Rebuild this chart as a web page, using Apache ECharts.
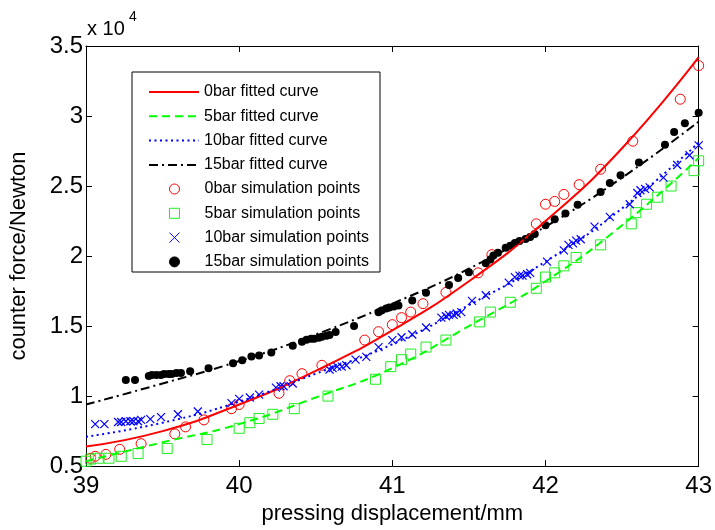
<!DOCTYPE html>
<html>
<head>
<meta charset="utf-8">
<script src="https://cdn.jsdelivr.net/npm/echarts@6/dist/echarts.min.js"></script>
<style>
html, body { margin: 0; padding: 0; background: #fff; }
#chart { width: 715px; height: 530px; }
</style>
</head>
<body>
<div id="chart"></div>
<script>
// fitted curves, force in units of 1e4 N
const curveX = [39, 39.5, 40, 40.5, 41, 41.5, 42, 42.5, 43];
const fit0 = [0.64, 0.75, 0.94, 1.18, 1.47, 1.82, 2.25, 2.77, 3.42];
const fit5 = [0.535, 0.67, 0.80, 0.99, 1.20, 1.50, 1.82, 2.22, 2.70];
const fit10 = [0.71, 0.81, 0.96, 1.16, 1.37, 1.65, 1.96, 2.34, 2.81];
const fit15 = [0.94, 1.09, 1.25, 1.44, 1.66, 1.91, 2.21, 2.56, 2.96];

// simulation points
const sim0X = [39.03, 39.06, 39.13, 39.22, 39.36, 39.58, 39.65, 39.77, 39.95, 40.00, 40.26, 40.33, 40.41, 40.54, 40.82, 40.91, 41.00, 41.06, 41.12, 41.20, 41.35, 41.56, 41.65, 41.94, 42.00, 42.06, 42.12, 42.22, 42.36, 42.57, 42.88, 43.00];
const sim0Y = [0.556, 0.57, 0.584, 0.62, 0.66, 0.73, 0.78, 0.83, 0.91, 0.94, 1.02, 1.11, 1.16, 1.22, 1.40, 1.46, 1.51, 1.56, 1.60, 1.66, 1.74, 1.88, 2.01, 2.23, 2.37, 2.39, 2.44, 2.51, 2.62, 2.82, 3.12, 3.36];

const sim5X = [39.00, 39.03, 39.08, 39.15, 39.23, 39.34, 39.53, 39.79, 40.00, 40.07, 40.13, 40.22, 40.36, 40.58, 40.89, 40.99, 41.06, 41.12, 41.22, 41.35, 41.57, 41.64, 41.77, 41.94, 42.00, 42.06, 42.12, 42.20, 42.36, 42.56, 42.59, 42.66, 42.73, 42.82, 42.97, 43.00];
const sim5Y = [0.535, 0.55, 0.556, 0.556, 0.57, 0.59, 0.626, 0.69, 0.77, 0.81, 0.84, 0.87, 0.91, 1.00, 1.12, 1.21, 1.26, 1.30, 1.35, 1.40, 1.53, 1.60, 1.67, 1.77, 1.85, 1.88, 1.93, 1.99, 2.08, 2.23, 2.31, 2.37, 2.42, 2.50, 2.61, 2.68];

const sim10X = [39.06, 39.12, 39.21, 39.23, 39.26, 39.29, 39.31, 39.34, 39.36, 39.42, 39.49, 39.60, 39.73, 39.95, 40.00, 40.07, 40.13, 40.24, 40.27, 40.29, 40.35, 40.59, 40.61, 40.64, 40.67, 40.70, 40.76, 40.83, 40.91, 41.00, 41.06, 41.13, 41.22, 41.32, 41.35, 41.37, 41.40, 41.42, 41.45, 41.52, 41.61, 41.76, 41.80, 41.83, 41.85, 41.88, 41.90, 42.01, 42.12, 42.15, 42.18, 42.20, 42.23, 42.32, 42.42, 42.55, 42.60, 42.62, 42.65, 42.68, 42.77, 42.86, 42.94, 43.00];
const sim10Y = [0.80, 0.80, 0.815, 0.815, 0.82, 0.82, 0.82, 0.82, 0.83, 0.835, 0.85, 0.87, 0.89, 0.95, 0.98, 0.99, 1.01, 1.06, 1.07, 1.07, 1.09, 1.19, 1.20, 1.21, 1.21, 1.22, 1.26, 1.28, 1.35, 1.40, 1.42, 1.44, 1.49, 1.56, 1.57, 1.58, 1.58, 1.59, 1.60, 1.68, 1.72, 1.81, 1.85, 1.86, 1.86, 1.87, 1.88, 1.96, 2.04, 2.08, 2.09, 2.11, 2.12, 2.21, 2.28, 2.37, 2.45, 2.47, 2.48, 2.49, 2.56, 2.65, 2.72, 2.79];

const sim15X = [39.26, 39.32, 39.41, 39.43, 39.46, 39.49, 39.51, 39.54, 39.56, 39.59, 39.62, 39.68, 39.80, 39.96, 40.02, 40.08, 40.13, 40.21, 40.35, 40.41, 40.44, 40.47, 40.49, 40.52, 40.54, 40.57, 40.59, 40.63, 40.75, 40.91, 40.93, 40.96, 40.98, 41.01, 41.04, 41.13, 41.22, 41.37, 41.43, 41.50, 41.61, 41.64, 41.66, 41.69, 41.74, 41.77, 41.80, 41.83, 41.87, 41.90, 41.93, 42.00, 42.06, 42.13, 42.21, 42.36, 42.42, 42.49, 42.61, 42.78, 42.84, 42.91, 43.00];
const sim15Y = [1.115, 1.115, 1.143, 1.15, 1.15, 1.15, 1.157, 1.157, 1.157, 1.164, 1.164, 1.178, 1.199, 1.234, 1.255, 1.283, 1.29, 1.311, 1.36, 1.388, 1.402, 1.409, 1.409, 1.416, 1.423, 1.43, 1.437, 1.458, 1.50, 1.598, 1.612, 1.626, 1.633, 1.64, 1.647, 1.682, 1.738, 1.794, 1.843, 1.885, 1.948, 1.976, 2.004, 2.024, 2.059, 2.073, 2.094, 2.108, 2.122, 2.136, 2.157, 2.22, 2.262, 2.304, 2.367, 2.458, 2.521, 2.577, 2.668, 2.794, 2.885, 2.948, 3.024];

const xTicks = [39, 40, 41, 42, 43];
const yTicks = [0.5, 1, 1.5, 2, 2.5, 3, 3.5];

const zip = (xs, ys) => xs.map((x, i) => [x, ys[i]]);
const font = "'Liberation Sans', Arial, sans-serif";

const chart = echarts.init(document.getElementById('chart'), null, { renderer: 'canvas' });

const axisCommon = {
    axisLine: { show: true, onZero: false, lineStyle: { color: '#000', width: 1 } },
    axisTick: { show: true, inside: true, length: 6, lineStyle: { color: '#000' } },
    splitLine: { show: false }
};

const legendText = { color: '#000', fontSize: 16, lineHeight: 16, fontFamily: font };

const option = {
    animation: false,
    backgroundColor: '#fff',
    grid: { left: 85, right: 13, top: 46, bottom: 55 },
    xAxis: [
        Object.assign({}, axisCommon, {
            type: 'value', min: xTicks[0], max: xTicks[xTicks.length - 1], interval: 1,
            name: 'pressing displacement/mm', nameLocation: 'middle', nameGap: 32,
            nameTextStyle: { color: '#000', fontSize: 22, fontFamily: font },
            axisLabel: { color: '#000', fontSize: 24, fontFamily: font, margin: 8 }
        }),
        Object.assign({}, axisCommon, {
            type: 'value', position: 'top', min: xTicks[0], max: xTicks[xTicks.length - 1], interval: 1,
            axisLabel: { show: false }
        })
    ],
    yAxis: [
        Object.assign({}, axisCommon, {
            type: 'value', min: yTicks[0], max: yTicks[yTicks.length - 1], interval: 0.5,
            name: 'counter force/Newton', nameLocation: 'middle', nameGap: 56, nameRotate: 90,
            nameTextStyle: { color: '#000', fontSize: 22, fontFamily: font },
            axisLabel: { color: '#000', fontSize: 24, fontFamily: font, margin: 3 }
        }),
        Object.assign({}, axisCommon, {
            type: 'value', position: 'right', min: yTicks[0], max: yTicks[yTicks.length - 1], interval: 0.5,
            axisLabel: { show: false }
        })
    ],
    graphic: [
        { type: 'rect', z: 3, shape: { x: 132, y: 72, width: 248, height: 200 },
          style: { fill: '#fff', stroke: '#000', lineWidth: 1 } },
        { type: 'text', left: 87, top: 19, style: { text: 'x 10', fontSize: 20, fontFamily: font, fill: '#000' } },
        { type: 'text', left: 129, top: 10, style: { text: '4', fontSize: 14, fontFamily: font, fill: '#000' } }
    ],
    legend: [
        {
            orient: 'vertical', left: 143, top: 79, itemWidth: 50, itemHeight: 14, itemGap: 8.3,
            selectedMode: false, z: 5,
            itemStyle: { color: 'rgba(0,0,0,0)', borderWidth: 0, opacity: 0 },
            textStyle: legendText,
            data: ['0bar fitted curve', '5bar fitted curve', '10bar fitted curve', '15bar fitted curve']
        },
        {
            orient: 'vertical', left: 164, top: 176, itemWidth: 10, itemHeight: 10, itemGap: 8.3,
            selectedMode: false, z: 5,
            itemStyle: { borderWidth: 1 },
            textStyle: Object.assign({ padding: [0, 0, 0, 20] }, legendText),
            data: ['0bar simulation points', '5bar simulation points', '10bar simulation points', '15bar simulation points']
        }
    ],
    series: [
        { name: '0bar fitted curve', type: 'line', smooth: true, symbol: 'none', data: zip(curveX, fit0),
          itemStyle: { color: '#ff0000' }, lineStyle: { color: '#ff0000', width: 2, type: 'solid' } },
        { name: '5bar fitted curve', type: 'line', smooth: true, symbol: 'none', data: zip(curveX, fit5),
          itemStyle: { color: '#00ff00' }, lineStyle: { color: '#00ff00', width: 2, type: [8, 5] } },
        { name: '10bar fitted curve', type: 'line', smooth: true, symbol: 'none', data: zip(curveX, fit10),
          itemStyle: { color: '#0000ff' }, lineStyle: { color: '#0000ff', width: 2, type: [2, 3.5] } },
        { name: '15bar fitted curve', type: 'line', smooth: true, symbol: 'none', data: zip(curveX, fit15),
          itemStyle: { color: '#000' }, lineStyle: { color: '#000', width: 2, type: [9, 4, 2, 4] } },
        { name: '0bar simulation points', type: 'scatter', symbol: 'circle', symbolSize: 10, data: zip(sim0X, sim0Y),
          itemStyle: { color: 'rgba(0,0,0,0)', borderColor: '#ff0000', borderWidth: 1, opacity: 1 } },
        { name: '5bar simulation points', type: 'scatter', symbol: 'path://M0,0L10,0L10,10L0,10Z', symbolSize: 10, data: zip(sim5X, sim5Y),
          itemStyle: { color: 'rgba(0,0,0,0)', borderColor: '#22ee22', borderWidth: 1, opacity: 1 } },
        { name: '10bar simulation points', type: 'scatter', symbol: 'path://M0,0L10,10M0,10L10,0', symbolSize: 8, data: zip(sim10X, sim10Y),
          itemStyle: { color: 'rgba(0,0,0,0)', borderColor: '#0000ff', borderWidth: 1.2, opacity: 1 } },
        { name: '15bar simulation points', type: 'scatter', symbol: 'circle', symbolSize: 8, data: zip(sim15X, sim15Y),
          itemStyle: { color: '#000', borderColor: '#000', borderWidth: 0, opacity: 1 } }
    ]
};

chart.setOption(option);
</script>
</body>
</html>
